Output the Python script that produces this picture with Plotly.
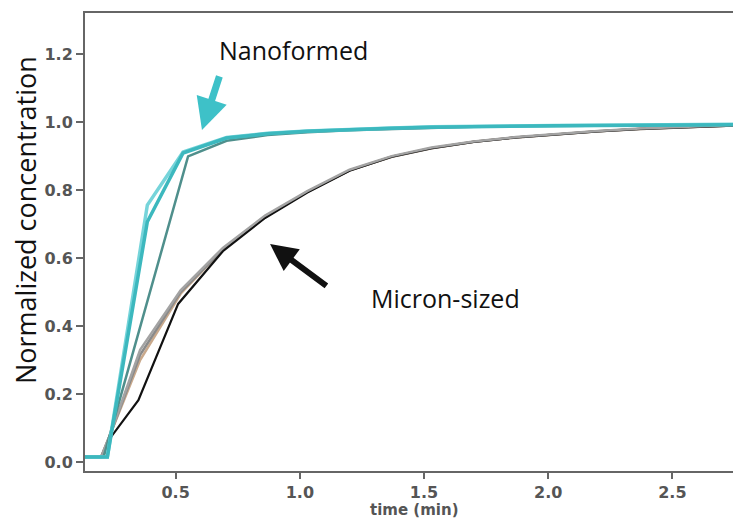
import plotly.graph_objects as go

# ---- data ----
t_nano_a = [0.135, 0.225, 0.386, 0.53, 0.705, 0.87, 1.03, 1.2, 1.37, 1.53, 1.7, 1.87, 2.03, 2.2, 2.37, 2.53, 2.7, 2.87]
v_nano_a = [0.015, 0.015, 0.707, 0.909, 0.953, 0.966, 0.973, 0.978, 0.982, 0.985, 0.987, 0.988, 0.989, 0.990, 0.991, 0.992, 0.993, 0.993]
v_nano_b = [0.015, 0.015, 0.756, 0.912, 0.955, 0.967, 0.974, 0.979, 0.983, 0.986, 0.988, 0.989, 0.990, 0.991, 0.992, 0.993, 0.994, 0.994]
t_nano_c = [0.135, 0.21, 0.55, 0.705, 0.87, 1.03, 1.2, 1.37, 1.53, 1.7, 1.87, 2.03, 2.2, 2.37, 2.53, 2.7, 2.87]
v_nano_c = [0.015, 0.015, 0.899, 0.945, 0.962, 0.970, 0.976, 0.980, 0.984, 0.986, 0.988, 0.989, 0.990, 0.991, 0.992, 0.993, 0.993]

t_micro = [0.135, 0.2, 0.236, 0.357, 0.52, 0.69, 0.86, 1.03, 1.2, 1.37, 1.53, 1.7, 1.87, 2.03, 2.2, 2.37, 2.53, 2.7, 2.87]
v_micro_gray1 = [0.015, 0.015, 0.08, 0.33, 0.505, 0.630, 0.725, 0.797, 0.860, 0.900, 0.925, 0.943, 0.956, 0.965, 0.974, 0.981, 0.986, 0.990, 0.993]
v_micro_gray2 = [0.015, 0.015, 0.08, 0.315, 0.500, 0.625, 0.720, 0.795, 0.858, 0.898, 0.923, 0.942, 0.955, 0.964, 0.973, 0.980, 0.985, 0.990, 0.993]
v_micro_tan   = [0.015, 0.015, 0.08, 0.300, 0.495, 0.625, 0.720, 0.795, 0.858, 0.898, 0.923, 0.942, 0.955, 0.964, 0.973, 0.980, 0.985, 0.990, 0.993]
t_micro_k = [0.135, 0.2, 0.236, 0.35, 0.51, 0.69, 0.86, 1.03, 1.2, 1.37, 1.53, 1.7, 1.87, 2.03, 2.2, 2.37, 2.53, 2.7, 2.87]
v_micro_k = [0.015, 0.015, 0.07, 0.182, 0.465, 0.620, 0.718, 0.793, 0.857, 0.898, 0.923, 0.942, 0.955, 0.964, 0.973, 0.980, 0.985, 0.990, 0.993]

x_ticks = [0.5, 1.0, 1.5, 2.0, 2.5]
y_ticks = [0.0, 0.2, 0.4, 0.6, 0.8, 1.0, 1.2]

fig = go.Figure()

def line(x, y, color, width):
    fig.add_trace(go.Scatter(x=x, y=y, mode="lines", line=dict(color=color, width=width),
                             showlegend=False, hoverinfo="skip"))

line(t_micro, v_micro_tan, "#c9a98c", 2.5)
line(t_micro, v_micro_gray2, "#8a8a8a", 2.5)
line(t_micro_k, v_micro_k, "#111111", 2.2)
line(t_micro, v_micro_gray1, "#a3a3a3", 2.5)
line(t_nano_c, v_nano_c, "#4f8f8c", 2.5)
line(t_nano_a, v_nano_b, "#76d4da", 3.5)
line(t_nano_a, v_nano_a, "#3cb8be", 3.5)

tick_font = dict(family="DejaVu Sans", size=16, color="#555555", weight="bold")
fig.update_xaxes(range=[0.135, 2.744], tickvals=x_ticks, ticktext=[f"{v:.1f}" for v in x_ticks],
                 showline=True, linecolor="#666666", linewidth=2, mirror=True,
                 ticks="outside", ticklen=6, tickwidth=2, tickcolor="#666666",
                 showgrid=False, zeroline=False, tickfont=tick_font)
fig.update_yaxes(range=[-0.0265, 1.321], tickvals=y_ticks, ticktext=[f"{v:.1f}" for v in y_ticks],
                 showline=True, linecolor="#666666", linewidth=2,
                 ticks="outside", ticklen=7, tickwidth=2, tickcolor="#666666",
                 showgrid=False, zeroline=False, tickfont=tick_font)

txt = dict(family="Open Sans", color="#111111")
fig.add_annotation(text="Normalized concentration", xref="paper", yref="paper", x=-0.0926, y=0.548,
                   xanchor="center", yanchor="middle",
                   textangle=-90, showarrow=False, font=dict(size=27, **txt))
fig.add_annotation(text="time (min)", xref="paper", yref="paper", x=0.509, y=-0.062,
                   xanchor="center", yanchor="top", showarrow=False,
                   font=dict(family="DejaVu Sans", size=15, color="#555555", weight="bold"))
fig.add_annotation(text="Nanoformed", xref="paper", yref="paper", x=0.3225, y=0.919,
                   xanchor="center", yanchor="middle", showarrow=False, font=dict(size=25, **txt))
fig.add_annotation(text="Micron-sized", xref="paper", yref="paper", x=0.557, y=0.378,
                   xanchor="center", yanchor="middle", showarrow=False, font=dict(size=25, **txt))
# arrows
fig.add_annotation(x=0.606, y=0.977, ax=0.678, ay=1.139, xref="x", yref="y", axref="x", ayref="y",
                   text="", showarrow=True, arrowhead=2, arrowsize=0.9, arrowwidth=7, arrowcolor="#3ec1c8")
fig.add_annotation(x=0.88, y=0.641, ax=1.113, ay=0.515, xref="x", yref="y", axref="x", ayref="y",
                   text="", showarrow=True, arrowhead=2, arrowsize=0.9, arrowwidth=6, arrowcolor="#111111")

fig.update_layout(width=733, height=521, margin=dict(l=85, r=0, t=13, b=50),
                  paper_bgcolor="white", plot_bgcolor="white")

fig.write_html("out.html", config={"displayModeBar": False},
               post_script="document.body.style.margin='0';document.body.style.overflow='hidden';")
